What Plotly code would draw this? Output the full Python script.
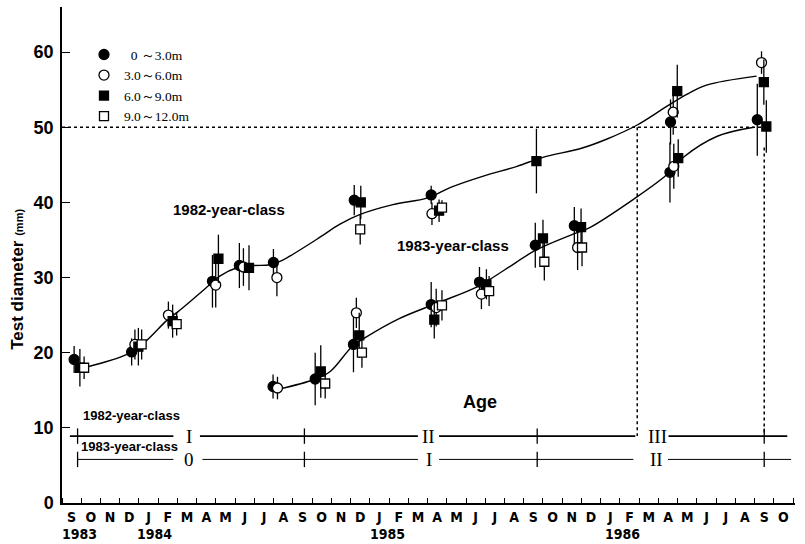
import plotly.graph_objects as go

# x values: months since 1 Sep 1983
months = ["S","O","N","D","J","F","M","A","M","J","J","A"]
month_labels = [months[i % 12] for i in range(38)]
year_text = ["1983", "1984", "1985", "1986"]
year_pos = [0.93, 4.83, 16.9, 29.13]

# 0~3.0m (filled circle)
c0_x = [0.63, 3.62, 7.82, 9.22, 10.99, 15.19, 19.19, 31.63,
        10.97, 13.16, 15.15, 19.19, 21.70, 24.60, 26.63, 31.60, 36.14]
c0_y = [19.1, 20.1, 29.5, 31.6, 32.0, 40.3, 41.0, 50.7,
        15.5, 16.5, 21.1, 26.4, 29.4, 34.3, 36.9, 44.0, 51.0]
c0_e = [1.8, 1.8, 3.5, 3.0, 1.8, 2.0, 1.2, 3.0,
        1.6, 3.5, 3.7, 3.0, 2.0, 3.0, 2.5, 4.0, 4.8]
# 3.0~6.0m (open circle)
c1_x = [3.79, 5.53, 7.99, 9.43, 11.17, 19.23, 31.77, 36.36,
        11.20, 15.30, 19.45, 21.80, 26.80, 31.80]
c1_y = [21.1, 25.0, 29.0, 31.4, 30.0, 38.5, 52.0, 58.6,
        15.3, 25.3, 26.0, 27.8, 34.0, 44.8]
c1_e = [2.0, 1.8, 3.0, 2.5, 2.5, 1.5, 3.0, 1.5,
        1.5, 2.0, 2.5, 2.0, 3.0, 3.0]
# 6.0~9.0m (filled square)
s0_x = [0.93, 3.97, 5.75, 8.13, 9.72, 15.53, 19.60, 24.66, 31.98, 36.48,
        13.45, 15.45, 19.35, 22.06, 25.00, 26.98, 32.03, 36.61]
s0_y = [18.0, 20.8, 24.2, 32.5, 31.3, 40.0, 38.9, 45.5, 54.8, 56.0,
        17.5, 22.3, 24.4, 29.1, 35.2, 36.7, 45.9, 50.1]
s0_e = [2.5, 2.5, 2.2, 3.2, 3.0, 2.2, 1.5, 4.3, 3.5, 3.0,
        3.5, 3.0, 2.5, 2.0, 2.5, 2.5, 2.5, 3.5]
# 9.0~12.0m (open square)
s1_x = [1.15, 4.14, 5.96, 15.50, 19.75,
        13.68, 15.59, 19.75, 22.20, 25.07, 27.03]
s1_y = [18.0, 21.1, 23.8, 36.4, 39.3,
        15.9, 20.0, 26.3, 28.2, 32.1, 34.0]
s1_e = [1.5, 2.0, 1.5, 2.0, 1.0,
        2.0, 2.0, 2.0, 2.0, 2.5, 2.5]

# fitted growth curves
cur82_x = [1.3, 3.4, 4.3, 5.45, 6.05, 7.7, 8.2, 9.1, 10.0, 10.8, 11.45, 13.25, 14.45,
           15.5, 17.2, 19.0, 20.2, 21.9, 23.65, 25.0, 27.0, 28.3, 29.9, 31.45, 32.5, 33.5, 36.1]
cur82_y = [18.1, 19.8, 21.4, 24.3, 25.5, 29.1, 30.2, 31.3, 31.6, 31.7, 32.3, 35.1, 37.1,
           38.4, 39.7, 40.6, 42.0, 43.5, 44.8, 46.0, 47.2, 48.4, 50.3, 52.8, 54.4, 55.6, 56.8]
cur83_x = [11.34, 13.07, 13.94, 15.07, 15.76, 17.5, 19.5, 21.6, 23.0, 24.6, 26.6, 27.4,
           29.7, 31.4, 32.3, 34.06, 35.96]
cur83_y = [15.2, 16.4, 17.5, 20.8, 22.0, 24.5, 26.6, 28.8, 31.0, 33.6, 35.8, 36.6,
           40.4, 43.6, 46.0, 48.8, 50.0]

# age bars
age82_level = 8.9
age83_level = 5.8
age82_segs = [(0.41, 5.79), (7.17, 18.5), (19.6, 29.8), (31.5, 37.7)]
age83_segs = [(0.81, 5.79), (7.3, 18.5), (19.6, 29.7), (31.5, 37.9)]
age_ticks = [0.81, 12.6, 24.7, 36.5]
age82_marks = [(6.6, "I"), (19.05, "II"), (30.93, "III")]
age83_marks = [(6.6, "0"), (19.1, "I"), (30.9, "II")]

# reference (dotted) lines
ref_level = 50
ref_x1 = 29.9
ref_x2 = 36.5

fig = go.Figure()

def seg_xy(segs, level):
    xs, ys = [], []
    for a, b in segs:
        xs += [a, b, None]
        ys += [level, level, None]
    return xs, ys

# dotted reference lines
fig.add_trace(go.Scatter(x=[0, ref_x2], y=[ref_level, ref_level], mode="lines",
                         line=dict(color="black", width=1.5, dash="dot"), showlegend=False, hoverinfo="skip"))
fig.add_trace(go.Scatter(x=[ref_x1, ref_x1], y=[ref_level, age82_level], mode="lines",
                         line=dict(color="black", width=1.5, dash="dot"), showlegend=False, hoverinfo="skip"))
fig.add_trace(go.Scatter(x=[ref_x2, ref_x2], y=[47.3, age82_level], mode="lines",
                         line=dict(color="black", width=1.5, dash="dot"), showlegend=False, hoverinfo="skip"))

# age lines
x82, y82 = seg_xy(age82_segs, age82_level)
x83, y83 = seg_xy(age83_segs, age83_level)
fig.add_trace(go.Scatter(x=x82, y=y82, mode="lines", line=dict(color="black", width=1.8),
                         showlegend=False, hoverinfo="skip"))
fig.add_trace(go.Scatter(x=x83, y=y83, mode="lines", line=dict(color="black", width=1.0),
                         showlegend=False, hoverinfo="skip"))
fig.add_trace(go.Scatter(x=age_ticks + age_ticks, y=[age82_level] * 4 + [age83_level] * 4, mode="markers",
                         marker=dict(symbol="line-ns", size=11, line=dict(color="black", width=1.3)),
                         showlegend=False, hoverinfo="skip"))

# curves
for cx, cy in [(cur82_x, cur82_y), (cur83_x, cur83_y)]:
    fig.add_trace(go.Scatter(x=cx, y=cy, mode="lines", line=dict(color="black", width=1.4, shape="spline"),
                             showlegend=False, hoverinfo="skip"))

def pts(x, y, e, name, symbol, fill, size):
    fig.add_trace(go.Scatter(
        x=x, y=y, mode="markers", name=name,
        marker=dict(symbol=symbol, size=size, color=fill, line=dict(color="black", width=1.3)),
        error_y=dict(type="data", array=e, visible=True, color="black", thickness=1.3, width=0),
    ))

pts(c0_x, c0_y, c0_e, "\u00a0\u00a00 \uff5e3.0m", "circle", "black", 10)
pts(c1_x, c1_y, c1_e, "3.0\uff5e6.0m", "circle", "white", 10)
pts(s0_x, s0_y, s0_e, "6.0\uff5e9.0m", "square", "black", 9)
pts(s1_x, s1_y, s1_e, "9.0\uff5e12.0m", "square", "white", 9)

ann = []
bold = dict(family="Liberation Sans, Arial, sans-serif", color="black", weight="bold")
ann.append(dict(x=8.68, y=39.1, text="1982-year-class", showarrow=False, font=dict(size=15, **bold)))
ann.append(dict(x=20.34, y=34.2, text="1983-year-class", showarrow=False, font=dict(size=15, **bold)))
ann.append(dict(x=3.62, y=11.6, text="1982-year-class", showarrow=False, font=dict(size=13, **bold)))
ann.append(dict(x=3.53, y=7.5, text="1983-year-class", showarrow=False, font=dict(size=13, **bold)))
ann.append(dict(x=21.74, y=13.4, text="Age", showarrow=False, font=dict(size=18, **bold)))
serif = dict(family="Liberation Serif, Times New Roman, serif", color="black")
for xv, t in age82_marks:
    ann.append(dict(x=xv, y=age82_level, text=t, showarrow=False, font=dict(size=19, **serif), bgcolor="white"))
for xv, t in age83_marks:
    ann.append(dict(x=xv, y=age83_level, text=t, showarrow=False, font=dict(size=19, **serif), bgcolor="white"))
ann.append(dict(xref="paper", yref="paper", x=-0.06, y=0.45, textangle=-90, showarrow=False,
                xanchor="center", yanchor="middle",
                text="Test diameter <span style='font-size:11px'>(mm)</span>",
                font=dict(size=17, **bold)))
narrow = "DejaVu Sans Condensed, Liberation Sans Narrow, Liberation Sans, sans-serif"
for xv, t in zip(year_pos, year_text):
    ann.append(dict(x=xv, xref="x", y=-0.063, yref="paper", text=t, showarrow=False,
                    xanchor="center", yanchor="middle",
                    font=dict(family=narrow, size=14, color="black", weight="bold")))

fig.update_layout(
    width=805, height=544, margin=dict(l=62, r=10, t=7, b=41, autoexpand=False),
    paper_bgcolor="white", plot_bgcolor="white",
    annotations=ann,
    legend=dict(x=0.03, y=0.935, xanchor="left", yanchor="top", bgcolor="rgba(0,0,0,0)",
                font=dict(family="Liberation Serif, Times New Roman, serif", size=13.5, color="black"),
                itemwidth=30, tracegroupgap=0),
    xaxis=dict(range=[0, 38.1], showgrid=False, zeroline=False, showline=True, linecolor="black", linewidth=1.5,
               automargin=False,
               tickmode="array", tickvals=[i + 0.5 for i in range(38)], ticktext=month_labels, ticks="",
               tickangle=0,
               tickfont=dict(family=narrow, size=14, color="black", weight="bold"),
               ticklabelstandoff=0,
               minor=dict(tickmode="linear", tick0=0, dtick=1, ticks="inside", ticklen=5, tickcolor="black",
                          tickwidth=1.2, showgrid=False)),
    yaxis=dict(range=[0, 66], showgrid=False, zeroline=False, showline=True, linecolor="black", linewidth=1.5,
               automargin=False,
               tickvals=[0, 10, 20, 30, 40, 50, 60], ticks="inside", ticklen=8, tickwidth=1.3, tickcolor="black",
               tickfont=dict(family="Liberation Sans, Arial, sans-serif", size=18, color="black", weight="bold"),
               ticklabelstandoff=3),
)

fig.write_html("out.html")
